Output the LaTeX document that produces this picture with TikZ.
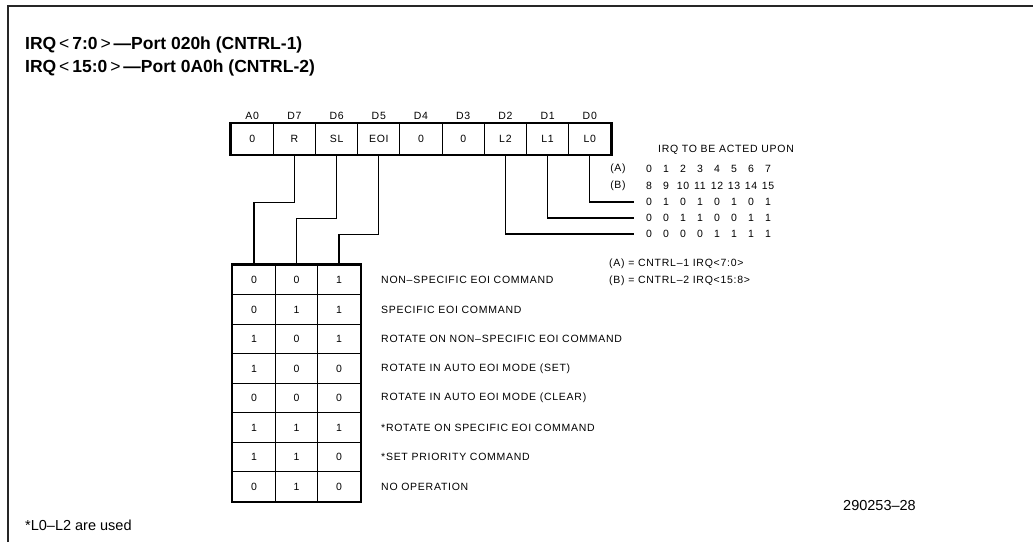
\documentclass[tikz,border=0pt]{standalone}
\usepackage{fontspec}
\setmainfont{Liberation Sans}
\newfontfamily\cadfont[LetterSpace=7]{Liberation Sans}
\usetikzlibrary{positioning,calc}

\tikzset{
  cad/.style={font=\cadfont\fontsize{10.5}{12}\selectfont, inner sep=0pt},
  regcell/.style={draw, line width=1.1pt, minimum width=42.2pt, minimum height=31pt, inner sep=0pt, cad},
  modecell/.style={draw, line width=1.3pt, minimum width=42.4pt, minimum height=29.5pt, inner sep=0pt, cad},
  wire/.style={line width=1.1pt},
  frame/.style={line width=1.5pt, black!85},
  heading/.style={anchor=base west, inner sep=0pt, font=\bfseries\fontsize{17.5}{20}\selectfont},
  footnote/.style={anchor=base west, inner sep=0pt, font=\fontsize{14.5}{16}\selectfont},
}

\begin{document}
\begin{tikzpicture}[x=1pt,y=-1pt]
    \useasboundingbox (0,0) rectangle (1033,542);

    % cadre
    \draw[frame] (8,542) -- (8,6) -- (1033,6);

    % titre
    \node[heading] (title1) at (25,49) {IRQ\,{\mdseries<}\,7:0\,{\mdseries>}\,—Port 020h (CNTRL-1)};
    \node[heading] (title2) at (25,72.5) {IRQ\,{\mdseries<}\,15:0\,{\mdseries>}\,—Port 0A0h (CNTRL-2)};

    % mot de commande
    \foreach \lab/\bit [count=\i] in {A0/0, D7/R, D6/SL, D5/EOI, D4/0, D3/0, D2/L2, D1/L1, D0/L0} {
        \node[regcell] (c\i) at (210+42.2*\i,139) {\bit};
        \node[cad] (h\i) at ($(c\i)+(0,-23)$) {\lab};
    }
    \draw[line width=2.6pt] (c1.north west) rectangle (c9.south east);

    % table R / SL / EOI
    \foreach \a/\b/\c/\txt [count=\r] in {
        0/0/1/NON–SPECIFIC EOI COMMAND,
        0/1/1/SPECIFIC EOI COMMAND,
        1/0/1/ROTATE ON NON–SPECIFIC EOI COMMAND,
        1/0/0/ROTATE IN AUTO EOI MODE (SET),
        0/0/0/ROTATE IN AUTO EOI MODE (CLEAR),
        1/1/1/*ROTATE ON SPECIFIC EOI COMMAND,
        1/1/0/*SET PRIORITY COMMAND,
        0/1/0/NO OPERATION} {
        \node[modecell] (m\r-1) at (254,250.5+29.5*\r) {\a};
        \node[modecell] (m\r-2) at (296.5,250.5+29.5*\r) {\b};
        \node[modecell] (m\r-3) at (339,250.5+29.5*\r) {\c};
        \node[cad, anchor=west] (cmd\r) at (381,250.5+29.5*\r) {\txt};
    }
    \draw[line width=2.6pt] (m1-1.north west) rectangle (m8-3.south east);

    \draw[wire] (c2.south) -- ++(0,47) -| (m1-1.north);
    \draw[wire] (c3.south) -- ++(0,63) -| (m1-2.north);
    \draw[wire] (c4.south) -- ++(0,79) -| (m1-3.north);

    % niveaux IRQ
    \node[cad] (irqhead) at (726,150) {IRQ TO BE ACTED UPON};
    \node[cad] (grpA) at (618,169) {(A)};
    \node[cad] (grpB) at (618,185.5) {(B)};
    \foreach \v [count=\k] in {0,...,7}
        \node[cad] (a\k) at (632+17*\k,169) {\v};
    \foreach \v [count=\k] in {8,...,15}
        \node[cad] (b\k) at (632+17*\k,185.5) {\v};
    \foreach \v [count=\k] in {0,1,0,1,0,1,0,1}
        \node[cad] (lz\k) at (632+17*\k,202) {\v};
    \foreach \v [count=\k] in {0,0,1,1,0,0,1,1}
        \node[cad] (lo\k) at (632+17*\k,218) {\v};
    \foreach \v [count=\k] in {0,0,0,0,1,1,1,1}
        \node[cad] (lt\k) at (632+17*\k,234) {\v};

    \coordinate (l0end) at (634,202);
    \coordinate (l1end) at (634,218);
    \coordinate (l2end) at (634,234);
    \draw[wire] (c9.south) |- (l0end);
    \draw[wire] (c8.south) |- (l1end);
    \draw[wire] (c7.south) |- (l2end);

    % legende
    \node[cad, anchor=west] (keyA) at (609,264) {(A) = CNTRL–1 IRQ<7:0>};
    \node[cad, anchor=west] (keyB) at (609,280.5) {(B) = CNTRL–2 IRQ<15:8>};

    % pied
    \node[footnote] (fignum) at (843,510) {290253–28};
    \node[footnote] (note) at (25,530) {*L0–L2 are used};
\end{tikzpicture}
\end{document}
